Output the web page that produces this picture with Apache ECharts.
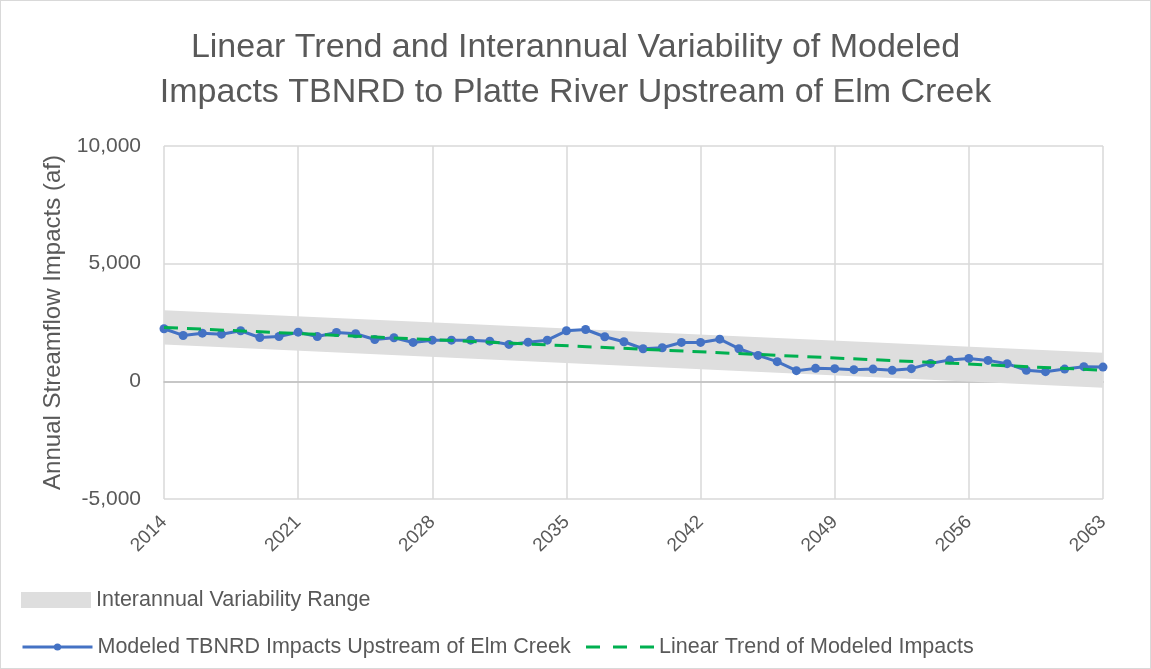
<!DOCTYPE html>
<html>
<head>
<meta charset="utf-8">
<script src="https://cdn.jsdelivr.net/npm/echarts@6/dist/echarts.min.js"></script>
<style>
html, body { margin: 0; padding: 0; background: #fff; }
#chart { width: 1149px; height: 667px; border: 1px solid #d9d9d9; }
</style>
</head>
<body>
<div id="chart"></div>
<script>
var years = [];
for (var y = 2014; y <= 2063; y++) years.push(String(y));

// modeled impacts (af)
var impacts = [
    2233, 1950, 2047, 2004, 2148, 1864, 1907, 2089, 1907, 2076,
    2021, 1780, 1852, 1653, 1750, 1750, 1750, 1708, 1568, 1665,
    1750, 2148, 2203, 1894, 1682, 1386, 1428, 1653, 1653, 1792,
    1386, 1102, 835, 453, 551, 538, 496, 521, 466, 538,
    763, 903, 975, 890, 750, 466, 411, 521, 623, 606
];

// linear trend end points
var trendEnds = [['2014', 2290], ['2063', 475]];
// variability band: lower edge and band width at both ends
var bandLow = [['2014', 1570], ['2063', -270]];
var bandWidth = [['2014', 1450], ['2063', 1480]];

var textColor = '#595959';
var font = 'Liberation Sans';
var legendText = {color: textColor, fontFamily: font, fontSize: 21.5};

var myChart = echarts.init(document.getElementById('chart'));
var option = {
    animation: false,
    title: {
        text: 'Linear Trend and Interannual Variability of Modeled\nImpacts TBNRD to Platte River Upstream of Elm Creek',
        left: 'center',
        top: 19,
        textStyle: {
            color: textColor,
            fontFamily: font,
            fontWeight: 'normal',
            fontSize: 34,
            lineHeight: 45
        }
    },
    legend: [
        {
            left: 20,
            top: 588,
            padding: 0,
            itemWidth: 70,
            itemHeight: 16,
            data: [{name: 'Interannual Variability Range', icon: 'rect'}],
            textStyle: legendText
        },
        {
            left: 20,
            top: 635,
            padding: 0,
            itemWidth: 70,
            itemHeight: 9,
            lineStyle: {width: 3},
            data: ['Modeled TBNRD Impacts Upstream of Elm Creek'],
            textStyle: legendText
        },
        {
            left: 585,
            top: 635,
            padding: 0,
            itemWidth: 68,
            itemHeight: 3,
            itemStyle: {borderWidth: 0},
            data: [{
                name: 'Linear Trend of Modeled Impacts',
                icon: 'path://M0,0L14,0L14,3L0,3Z M27,0L41,0L41,3L27,3Z M54,0L68,0L68,3L54,3Z'
            }],
            textStyle: legendText
        }
    ],
    grid: {
        left: 163,
        right: 47,
        top: 145,
        bottom: 169
    },
    xAxis: {
        type: 'category',
        data: years,
        boundaryGap: false,
        axisLine: {show: true, lineStyle: {color: '#bfbfbf', width: 1.5}},
        axisTick: {show: false},
        axisLabel: {
            interval: 6,
            rotate: 45,
            color: textColor,
            fontFamily: font,
            fontSize: 19,
            margin: 20
        },
        splitLine: {show: true, interval: 6, lineStyle: {color: '#d9d9d9', width: 1.5}}
    },
    yAxis: {
        type: 'value',
        min: -5000,
        max: 10000,
        interval: 5000,
        name: 'Annual Streamflow Impacts (af)',
        nameLocation: 'middle',
        nameGap: 98,
        nameTextStyle: {color: textColor, fontFamily: font, fontSize: 24},
        axisLine: {show: false},
        axisTick: {show: false},
        axisLabel: {
            color: textColor,
            fontFamily: font,
            fontSize: 21,
            margin: 23,
            formatter: function (v) {
                return v.toLocaleString('en-US');
            }
        },
        splitLine: {lineStyle: {color: '#d9d9d9', width: 1.5}}
    },
    series: [
        {
            name: 'bandLow',
            type: 'line',
            stack: 'band',
            stackStrategy: 'all',
            data: bandLow,
            symbol: 'none',
            lineStyle: {opacity: 0},
            silent: true,
            z: 1
        },
        {
            name: 'Interannual Variability Range',
            type: 'line',
            stack: 'band',
            stackStrategy: 'all',
            data: bandWidth,
            symbol: 'none',
            itemStyle: {color: '#dedede'},
            lineStyle: {opacity: 0},
            areaStyle: {color: '#dedede', opacity: 1},
            silent: true,
            z: 1
        },
        {
            name: 'Modeled TBNRD Impacts Upstream of Elm Creek',
            type: 'line',
            data: impacts,
            symbol: 'circle',
            symbolSize: 9,
            itemStyle: {color: '#4472c4'},
            lineStyle: {color: '#4472c4', width: 3},
            z: 3
        },
        {
            name: 'Linear Trend of Modeled Impacts',
            type: 'line',
            data: trendEnds,
            symbol: 'none',
            itemStyle: {color: '#00b050'},
            lineStyle: {color: '#00b050', width: 3, type: [14, 9]},
            z: 4
        }
    ]
};
myChart.setOption(option);
</script>
</body>
</html>
